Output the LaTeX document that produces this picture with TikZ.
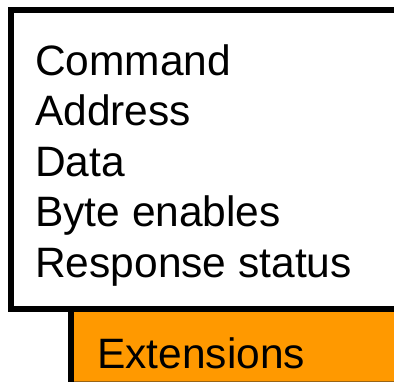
\documentclass[tikz,border=0pt]{standalone}
\usepackage{fontspec}
\setmainfont{Liberation Sans}
\definecolor{extorange}{HTML}{FF9900}
\definecolor{extedge}{HTML}{9A6414}
\begin{document}
\begin{tikzpicture}[x=1pt,y=-1pt,
  frame/.style={line width=6pt, line join=miter, draw=black},
  field/.style={anchor=base west, inner sep=0pt, font=\fontsize{42.5}{50}\selectfont}]
\useasboundingbox (0,0) rectangle (394,382);
\clip (0,0) rectangle (394,382);
% extension block below the header
\fill[extorange] (71,309) rectangle (400,381);
\draw[extedge, line width=1pt] (71,381.5) -- (400,381.5);
\draw[frame] (71,309) -- (71,390);
% header block, open to the right
\draw[frame] (400,10) -- (11,10) -- (11,309) -- (400,309);
% field names
\node[field] (cmd)  at (35,75.5)  {Command};
\node[field] (addr) at (35,126)   {Address};
\node[field] (data) at (35,176.5) {Data};
\node[field] (be)   at (35,227)   {Byte enables};
\node[field] (resp) at (35,277.5) {Response status};
\node[field] (ext)  at (97,369)   {Extensions};
\end{tikzpicture}
\end{document}
